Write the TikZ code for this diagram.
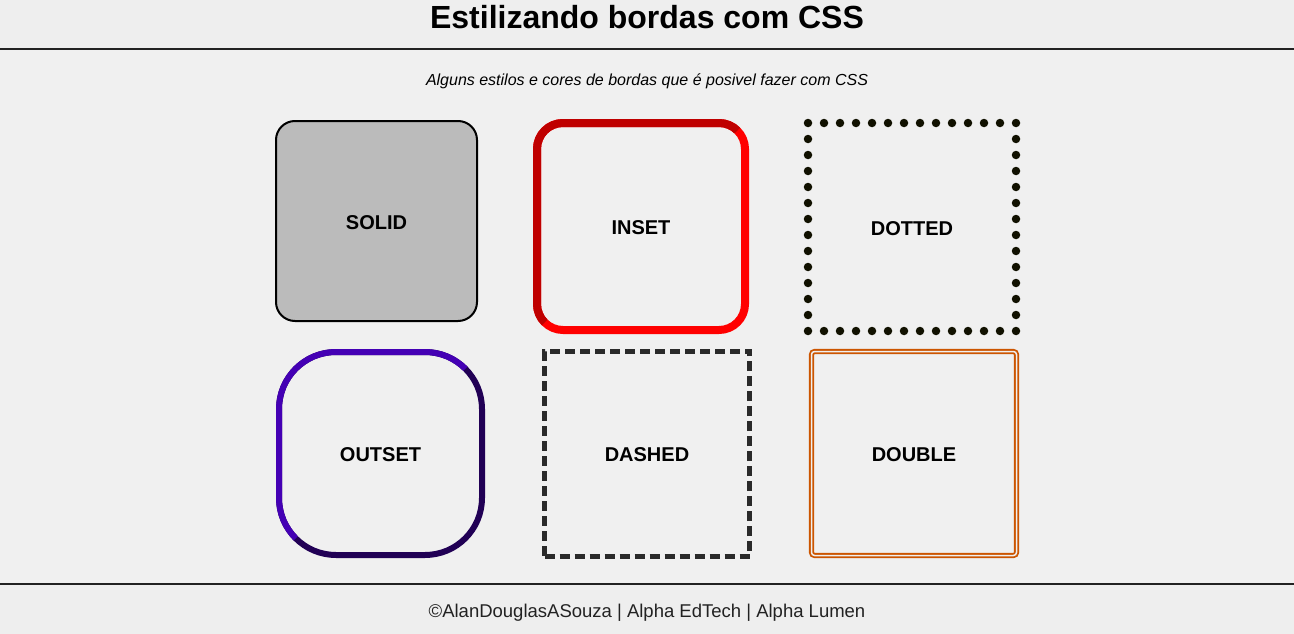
\documentclass[tikz,border=0pt]{standalone}
\usepackage{fontspec}
\setmainfont{Liberation Sans}
\usepackage{tikz}
\definecolor{pagebg}{HTML}{F0F0F0}
\definecolor{barbg}{HTML}{EEEEEE}
\definecolor{rulecol}{HTML}{222222}
\definecolor{solidfill}{HTML}{BBBBBB}
\definecolor{insetdark}{HTML}{BF0000}
\definecolor{insetlight}{HTML}{FF0000}
\definecolor{outsetlight}{HTML}{4400B4}
\definecolor{outsetdark}{HTML}{210055}
\definecolor{dotcol}{HTML}{111100}
\definecolor{dashcol}{HTML}{2A2A2A}
\definecolor{doublecol}{HTML}{CC5500}
\tikzstyle{box} = [draw, outer sep=0pt, inner sep=0pt, text height=17pt, font=\fontsize{20}{24}\selectfont\bfseries]
\tikzstyle{rule} = [rulecol, line width=2pt]

\begin{document}
\begin{tikzpicture}[x=1pt,y=-1pt]
			\useasboundingbox (0,0) rectangle (1294,634);
			\fill[barbg] (0,0) rectangle (1294,49);
			\fill[pagebg] (0,49) rectangle (1294,584);
			\fill[barbg] (0,584) rectangle (1294,634);
			\draw[rule] (0,49) -- (1294,49);
			\draw[rule] (0,584) -- (1294,584);
			\node[anchor=base, font=\fontsize{32}{38}\selectfont\bfseries] (title) at (647,29) {Estilizando bordas com CSS};
			\node[anchor=base, font=\fontsize{16}{19}\selectfont\itshape] (subtitle) at (647,85) {Alguns estilos e cores de bordas que é posivel fazer com CSS};
			\node[anchor=base, text=rulecol, font=\fontsize{18.5}{22}\selectfont] (footer) at (647,617) {©AlanDouglasASouza | Alpha EdTech | Alpha Lumen};
			% first row
			\node[box, fill=solidfill, line width=2pt, rounded corners=19pt, minimum width=201pt, minimum height=200pt] (solid) at (376.5,221) {SOLID};
			\node[box, draw=insetlight, line width=8pt, rounded corners=26pt, minimum width=208pt, minimum height=207pt] (inset) at (641,226.5) {INSET};
			\begin{scope}
				\clip ([xshift=-10pt,yshift=-10pt]inset.south west) -- ([xshift=-10pt,yshift=10pt]inset.north west) -- ([xshift=10pt,yshift=10pt]inset.north east) -- cycle;
				\draw[insetdark, line width=8pt, rounded corners=26pt] (inset.south west) rectangle (inset.north east);
			\end{scope}
			\node[box, draw=dotcol, line width=8.5pt, line cap=round, dash pattern=on 0pt off 16pt, minimum width=208pt, minimum height=208pt] (dotted) at (912,227) {DOTTED};
			% second row
			\node[box, draw=outsetdark, line width=6pt, rounded corners=57pt, minimum width=203pt, minimum height=203pt] (outset) at (380.5,453.5) {OUTSET};
			\begin{scope}
				\clip ([xshift=-10pt,yshift=-10pt]outset.south west) -- ([xshift=-10pt,yshift=10pt]outset.north west) -- ([xshift=10pt,yshift=10pt]outset.north east) -- cycle;
				\draw[outsetlight, line width=6pt, rounded corners=57pt] (outset.south west) rectangle (outset.north east);
			\end{scope}
			\node[box, draw=dashcol, line width=5pt, dash pattern=on 10pt off 5pt, minimum width=205pt, minimum height=205pt] (dashed) at (647,453.5) {DASHED};
			\node[box, draw=doublecol, double=pagebg, double distance=1.5pt, line width=1.8pt, rounded corners=3pt, minimum width=205pt, minimum height=204pt] (double) at (914,453.5) {DOUBLE};
		\end{tikzpicture}
\end{document}
